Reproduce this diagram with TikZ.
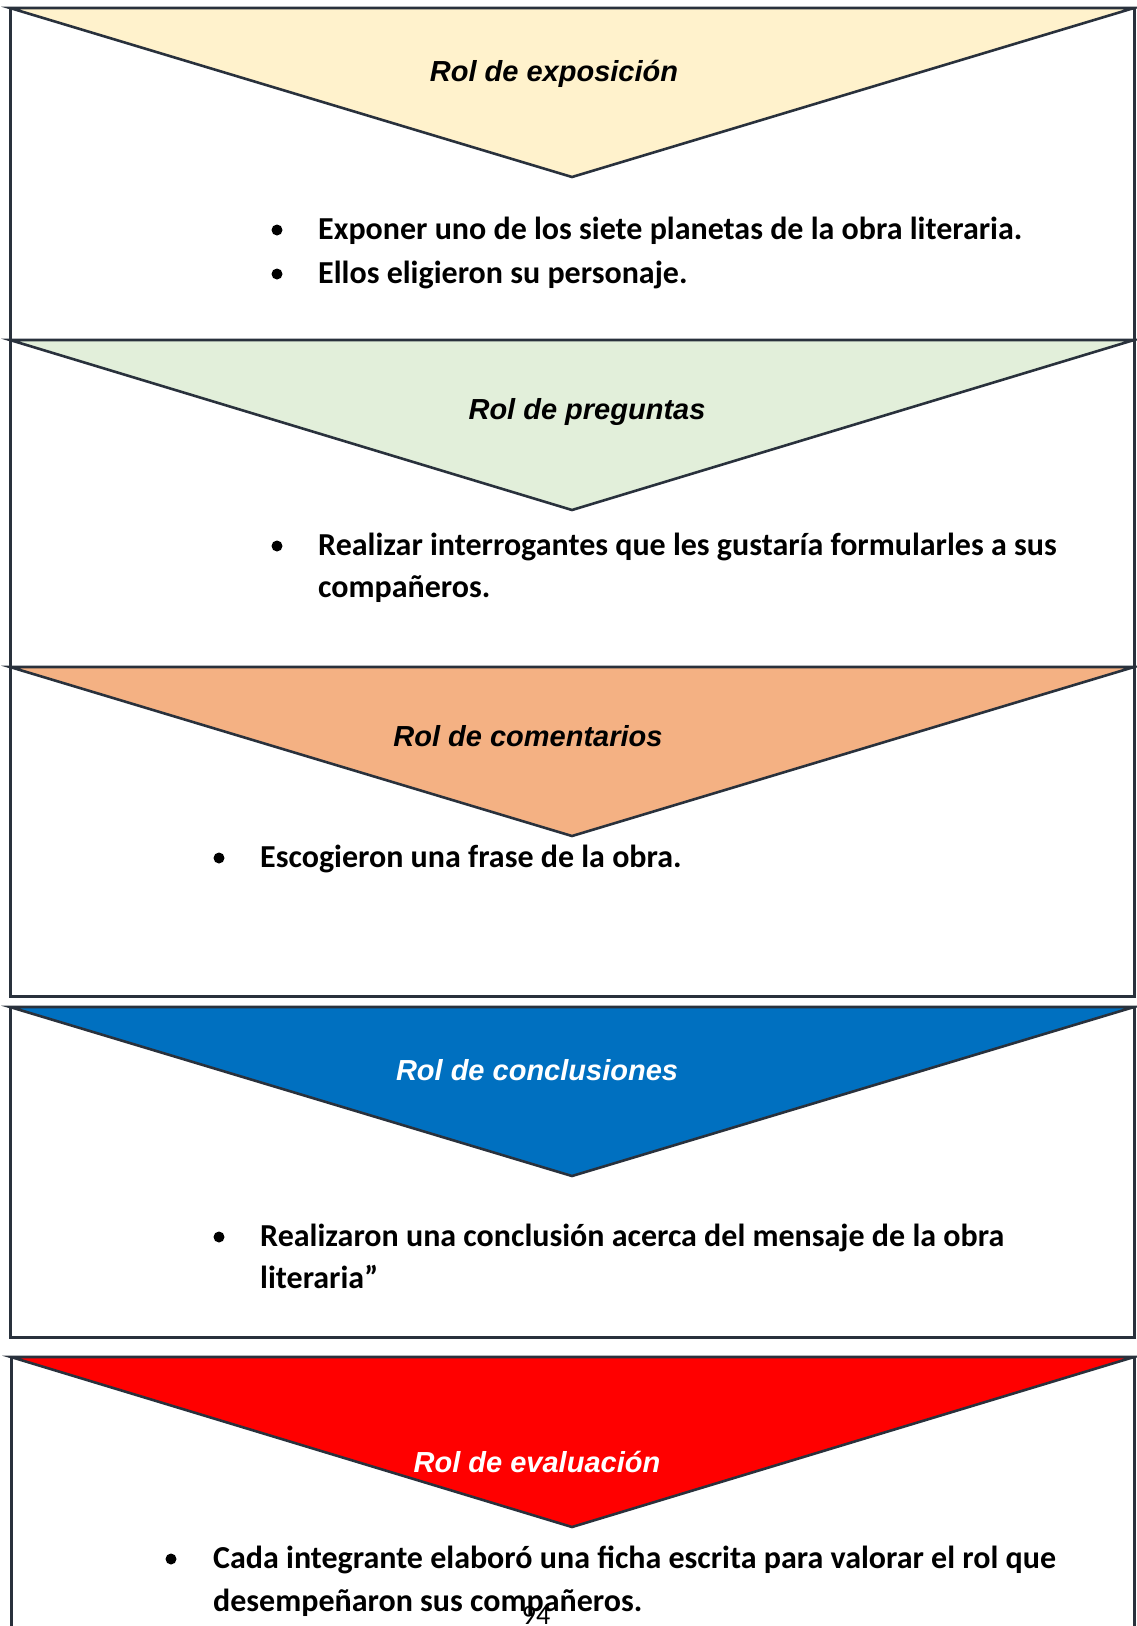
\documentclass[tikz,border=0pt]{standalone}
\usepackage{fontspec}
\setmainfont{Carlito}
\newfontfamily\titlefont{Liberation Sans}
\definecolor{edge}{HTML}{29313C}
\definecolor{cyellow}{HTML}{FFF2CC}
\definecolor{cgreen}{HTML}{E2EFDA}
\definecolor{corange}{HTML}{F4B183}
\definecolor{cblue}{HTML}{0070C0}
\definecolor{cred}{HTML}{FF0000}
\tikzset{
  panel/.style={draw=edge, line width=3pt, fill=white},
  funnel/.style={draw=edge, line width=2.6pt},
  title/.style={font=\titlefont\bfseries\itshape\fontsize{29}{34}\selectfont, inner sep=0pt, anchor=base},
  bodyline/.style={font=\bfseries\fontsize{32}{38}\selectfont, inner sep=0pt, anchor=base west},
  bulletdot/.style={circle, fill=black, inner sep=0pt, minimum size=11pt},
}
\begin{document}
\begin{tikzpicture}[x=1pt, y=-1pt]
\useasboundingbox (0,0) rectangle (1136,1626);
\fill[white] (0,0) rectangle (1136,1626);
% panels
\draw[panel] (10,8) rectangle (1134,340);
\draw[funnel, fill=cyellow] (10,8) -- (1134,8) -- (572,177) -- cycle;
\draw[panel] (10,340) rectangle (1134,667);
\draw[funnel, fill=cgreen] (10,340) -- (1134,340) -- (572,510) -- cycle;
\draw[panel] (10,667) rectangle (1134,996);
\draw[funnel, fill=corange] (10,667) -- (1134,667) -- (572,836) -- cycle;
\draw[panel] (10,1007) rectangle (1134,1337);
\draw[funnel, fill=cblue] (10,1007) -- (1134,1007) -- (572,1176) -- cycle;
\begin{scope}
\clip (-5,1340) rectangle (1140,1626);
\draw[panel] (11,1357) rectangle (1134,1700);
\end{scope}
\draw[funnel, fill=cred] (11,1357) -- (1134,1357) -- (572,1527) -- cycle;
% titles
\node[title] (t1) at (554,81) {Rol de exposición};
\node[title] (t2) at (587,419) {Rol de preguntas};
\node[title] (t3) at (528,746) {Rol de comentarios};
\node[title, text=white] (t4) at (537,1080) {Rol de conclusiones};
\node[title, text=white] (t5) at (537,1472) {Rol de evaluación};
% bullets and text
\node[bulletdot] (b1a) at (277,230) {};
\node[bodyline] (l1a) at (318,239) {Exponer uno de los siete planetas de la obra literaria.};
\node[bulletdot] (b1b) at (277,274) {};
\node[bodyline] (l1b) at (318,283) {Ellos eligieron su personaje.};
\node[bulletdot] (b2a) at (277,546) {};
\node[bodyline] (l2a) at (318,555) {Realizar interrogantes que les gustaría formularles a sus};
\node[bodyline] (l2b) at (318,597) {compañeros.};
\node[bulletdot] (b3a) at (219,858) {};
\node[bodyline] (l3a) at (260,867) {Escogieron una frase de la obra.};
\node[bulletdot] (b4a) at (219,1237) {};
\node[bodyline] (l4a) at (260,1246) {Realizaron una conclusión acerca del mensaje de la obra};
\node[bodyline] (l4b) at (260,1288) {literaria”};
\node[bulletdot] (b5a) at (171,1559) {};
\node[bodyline] (l5a) at (213,1568) {Cada integrante elaboró una ficha escrita para valorar el rol que};
\node[bodyline] (l5b) at (213,1611) {desempeñaron sus compañeros.};
\node[font=\fontsize{28}{30}\selectfont, inner sep=0pt, anchor=base] (pg) at (536,1624) {94};
\end{tikzpicture}
\end{document}
